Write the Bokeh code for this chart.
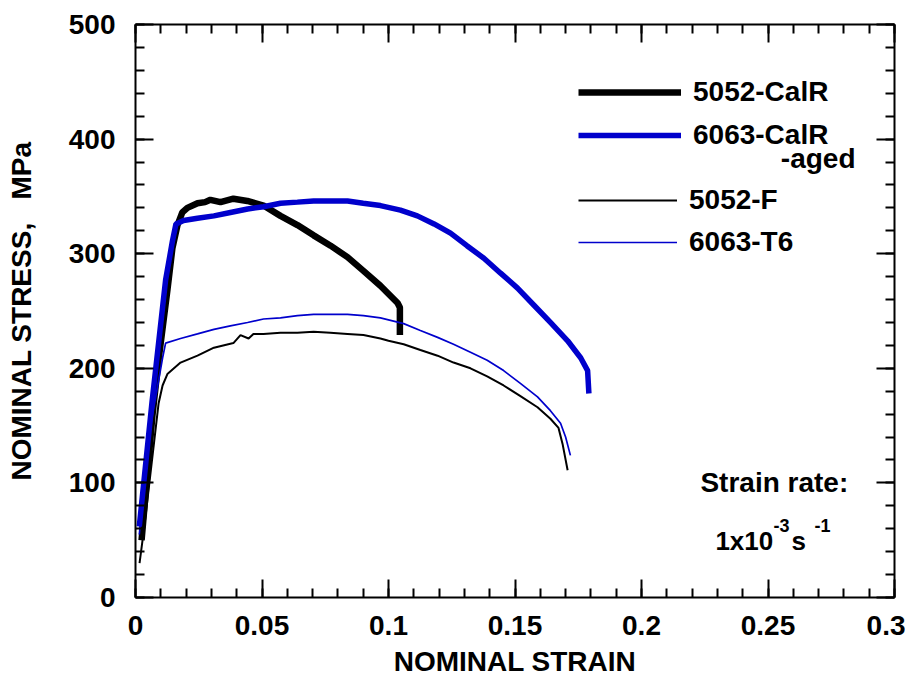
from bokeh.plotting import figure
from bokeh.models import LinearAxis, FixedTicker, Label, Legend, LegendItem, Range1d
from bokeh.embed import file_html
from bokeh.resources import INLINE

# ---------------- data ----------------
calr5052_strain = [0.0024, 0.0067, 0.0091, 0.0126, 0.0146, 0.0166, 0.0185, 0.0205, 0.0245,
                   0.0275, 0.0296, 0.0336, 0.0387, 0.0442, 0.0506, 0.0573, 0.0640, 0.0704,
                   0.0771, 0.0838, 0.0901, 0.0968, 0.1036, 0.1045, 0.1045]
calr5052_stress = [50, 159, 207, 268, 305, 325, 336, 340, 344,
                   345, 347, 345, 348, 346, 342, 333, 325, 316,
                   307, 297, 285, 272, 257, 253, 229]

calr6063_strain = [0.0015, 0.0065, 0.0119, 0.0146, 0.0160, 0.0190, 0.0245, 0.0310, 0.0375,
                   0.0443, 0.0506, 0.0573, 0.0640, 0.0704, 0.0770, 0.0838, 0.0900, 0.0968,
                   0.1047, 0.1114, 0.1180, 0.1245, 0.1310, 0.1377, 0.1443, 0.1510, 0.1575,
                   0.1640, 0.1708, 0.1760, 0.1787, 0.1792]
calr6063_stress = [62, 170, 277, 311, 326, 329, 331, 333, 336,
                   339, 341, 344, 345, 346, 346, 346, 344, 342,
                   338, 333, 326, 318, 307, 296, 283, 270, 255,
                   240, 224, 209, 198, 178]

f5052_strain = [0.0016, 0.0035, 0.0091, 0.0107, 0.0126, 0.0178, 0.0245, 0.0310, 0.0387,
                0.0415, 0.0447, 0.0466, 0.0506, 0.0573, 0.0640, 0.0704, 0.0770, 0.0838,
                0.0901, 0.0968, 0.1000, 0.1060, 0.1126, 0.1194, 0.1257, 0.1324, 0.1390,
                0.1455, 0.1520, 0.1589, 0.1640, 0.1672, 0.1688, 0.1708]
f5052_stress = [30, 62, 169, 185, 195, 205, 211, 218, 222,
                229, 226, 230, 230, 231, 231, 232, 231, 230,
                229, 226, 224, 221, 216, 211, 205, 200, 193,
                185, 176, 166, 156, 148, 134, 111]

t6063_strain = [0.0015, 0.0060, 0.0107, 0.0119, 0.0178, 0.0245, 0.0310, 0.0375, 0.0443,
                0.0506, 0.0573, 0.0640, 0.0704, 0.0770, 0.0838, 0.0901, 0.0968, 0.1060,
                0.1126, 0.1194, 0.1257, 0.1324, 0.1390, 0.1455, 0.1520, 0.1589, 0.1640,
                0.1680, 0.1700, 0.1719]
t6063_stress = [55, 150, 209, 222, 226, 230, 234, 237, 240,
                243, 244, 246, 247, 247, 247, 246, 244, 239,
                233, 227, 221, 214, 207, 198, 187, 175, 163,
                152, 140, 124]

x_ticks = [0, 0.05, 0.1, 0.15, 0.2, 0.25, 0.3]
x_tick_labels = ["0", "0.05", "0.1", "0.15", "0.2", "0.25", "0.3"]
x_minor = [round(i * 0.01, 2) for i in range(31)]
y_ticks = [0, 100, 200, 300, 400, 500]
y_tick_labels = ["0", "100", "200", "300", "400", "500"]
y_minor = [i * 20 for i in range(26)]

FONT = "Liberation Sans"
BLUE = "#0000CC"

p = figure(width=905, height=687, output_backend="svg", toolbar_location=None,
           x_range=Range1d(0, 0.3), y_range=Range1d(0, 500),
           min_border_left=135, min_border_right=11, min_border_top=24, min_border_bottom=90,
           background_fill_color="white", border_fill_color="white")
p.outline_line_color = None
p.xgrid.visible = False
p.ygrid.visible = False


def style_axis(ax, ticks, minor, labels, show_labels):
    ax.ticker = FixedTicker(ticks=ticks, minor_ticks=minor)
    ax.major_label_overrides = {t: (l if show_labels else "") for t, l in zip(ticks, labels)}
    ax.axis_line_color = "black"
    ax.axis_line_width = 2
    ax.major_tick_in = 18
    ax.major_tick_out = 0
    ax.minor_tick_in = 9
    ax.minor_tick_out = 0
    ax.major_tick_line_width = 2
    ax.minor_tick_line_width = 2
    ax.major_tick_line_color = "black"
    ax.minor_tick_line_color = "black"
    ax.major_label_text_font = FONT
    ax.major_label_text_font_style = "bold"
    ax.major_label_text_color = "black"
    if show_labels:
        ax.major_label_text_font_size = "28px"
    else:
        ax.major_label_text_font_size = "0px"
        ax.major_label_standoff = 0


xa = p.xaxis[0]
ya = p.yaxis[0]
style_axis(xa, x_ticks, x_minor, x_tick_labels, True)
style_axis(ya, y_ticks, y_minor, y_tick_labels, True)
xa.major_label_standoff = 18
ya.major_label_standoff = 20
xa.axis_label = "NOMINAL STRAIN"
ya.axis_label = "NOMINAL STRESS,\u00a0\u00a0 MPa"
for ax in (xa, ya):
    ax.axis_label_text_font = FONT
    ax.axis_label_text_font_style = "bold"
    ax.axis_label_text_font_size = "28px"
    ax.axis_label_text_color = "black"
xa.axis_label_standoff = 8
ya.axis_label_standoff = 29

top = LinearAxis()
style_axis(top, x_ticks, x_minor, x_tick_labels, False)
p.add_layout(top, "above")
right = LinearAxis()
style_axis(right, y_ticks, y_minor, y_tick_labels, False)
p.add_layout(right, "right")

r1 = p.line(calr5052_strain, calr5052_stress, line_color="black", line_width=6.5)
r2 = p.line(calr6063_strain, calr6063_stress, line_color=BLUE, line_width=5.5)
r3 = p.line(f5052_strain, f5052_stress, line_color="black", line_width=2)
r4 = p.line(t6063_strain, t6063_stress, line_color=BLUE, line_width=1.7)

common = dict(orientation="vertical", glyph_height=36, label_height=36, label_standoff=12,
              padding=0, margin=0, border_line_color=None, background_fill_alpha=0,
              label_text_font=FONT, label_text_font_style="bold", label_text_font_size="28px",
              label_text_color="black")
leg_a = Legend(items=[LegendItem(label="5052-CalR", renderers=[r1]),
                      LegendItem(label="6063-CalR", renderers=[r2])],
               location=(443, 444), glyph_width=103, spacing=7, **common)
leg_b = Legend(items=[LegendItem(label="5052-F", renderers=[r3]),
                      LegendItem(label="6063-T6", renderers=[r4])],
               location=(443, 337), glyph_width=99, spacing=6, **common)
p.add_layout(leg_a)
p.add_layout(leg_b)

lab = dict(text_font=FONT, text_font_style="bold", text_color="black")
p.add_layout(Label(x=0.2846, y=383, text="-aged", text_align="right", text_baseline="middle",
                   text_font_size="28px", **lab))
p.add_layout(Label(x=0.2233, y=100.3, text="Strain rate:", text_baseline="middle",
                   text_font_size="28px", **lab))
p.add_layout(Label(x=0.2292, y=49.7, text="1x10", text_baseline="alphabetic",
                   text_font_size="26px", **lab))
p.add_layout(Label(x=0.2522, y=62.8, text="-3", text_baseline="alphabetic",
                   text_font_size="18px", **lab))
p.add_layout(Label(x=0.2593, y=49.7, text="s", text_baseline="alphabetic",
                   text_font_size="26px", **lab))
p.add_layout(Label(x=0.2684, y=62.8, text="-1", text_baseline="alphabetic",
                   text_font_size="18px", **lab))

open("out.html", "w").write(file_html(p, INLINE))
